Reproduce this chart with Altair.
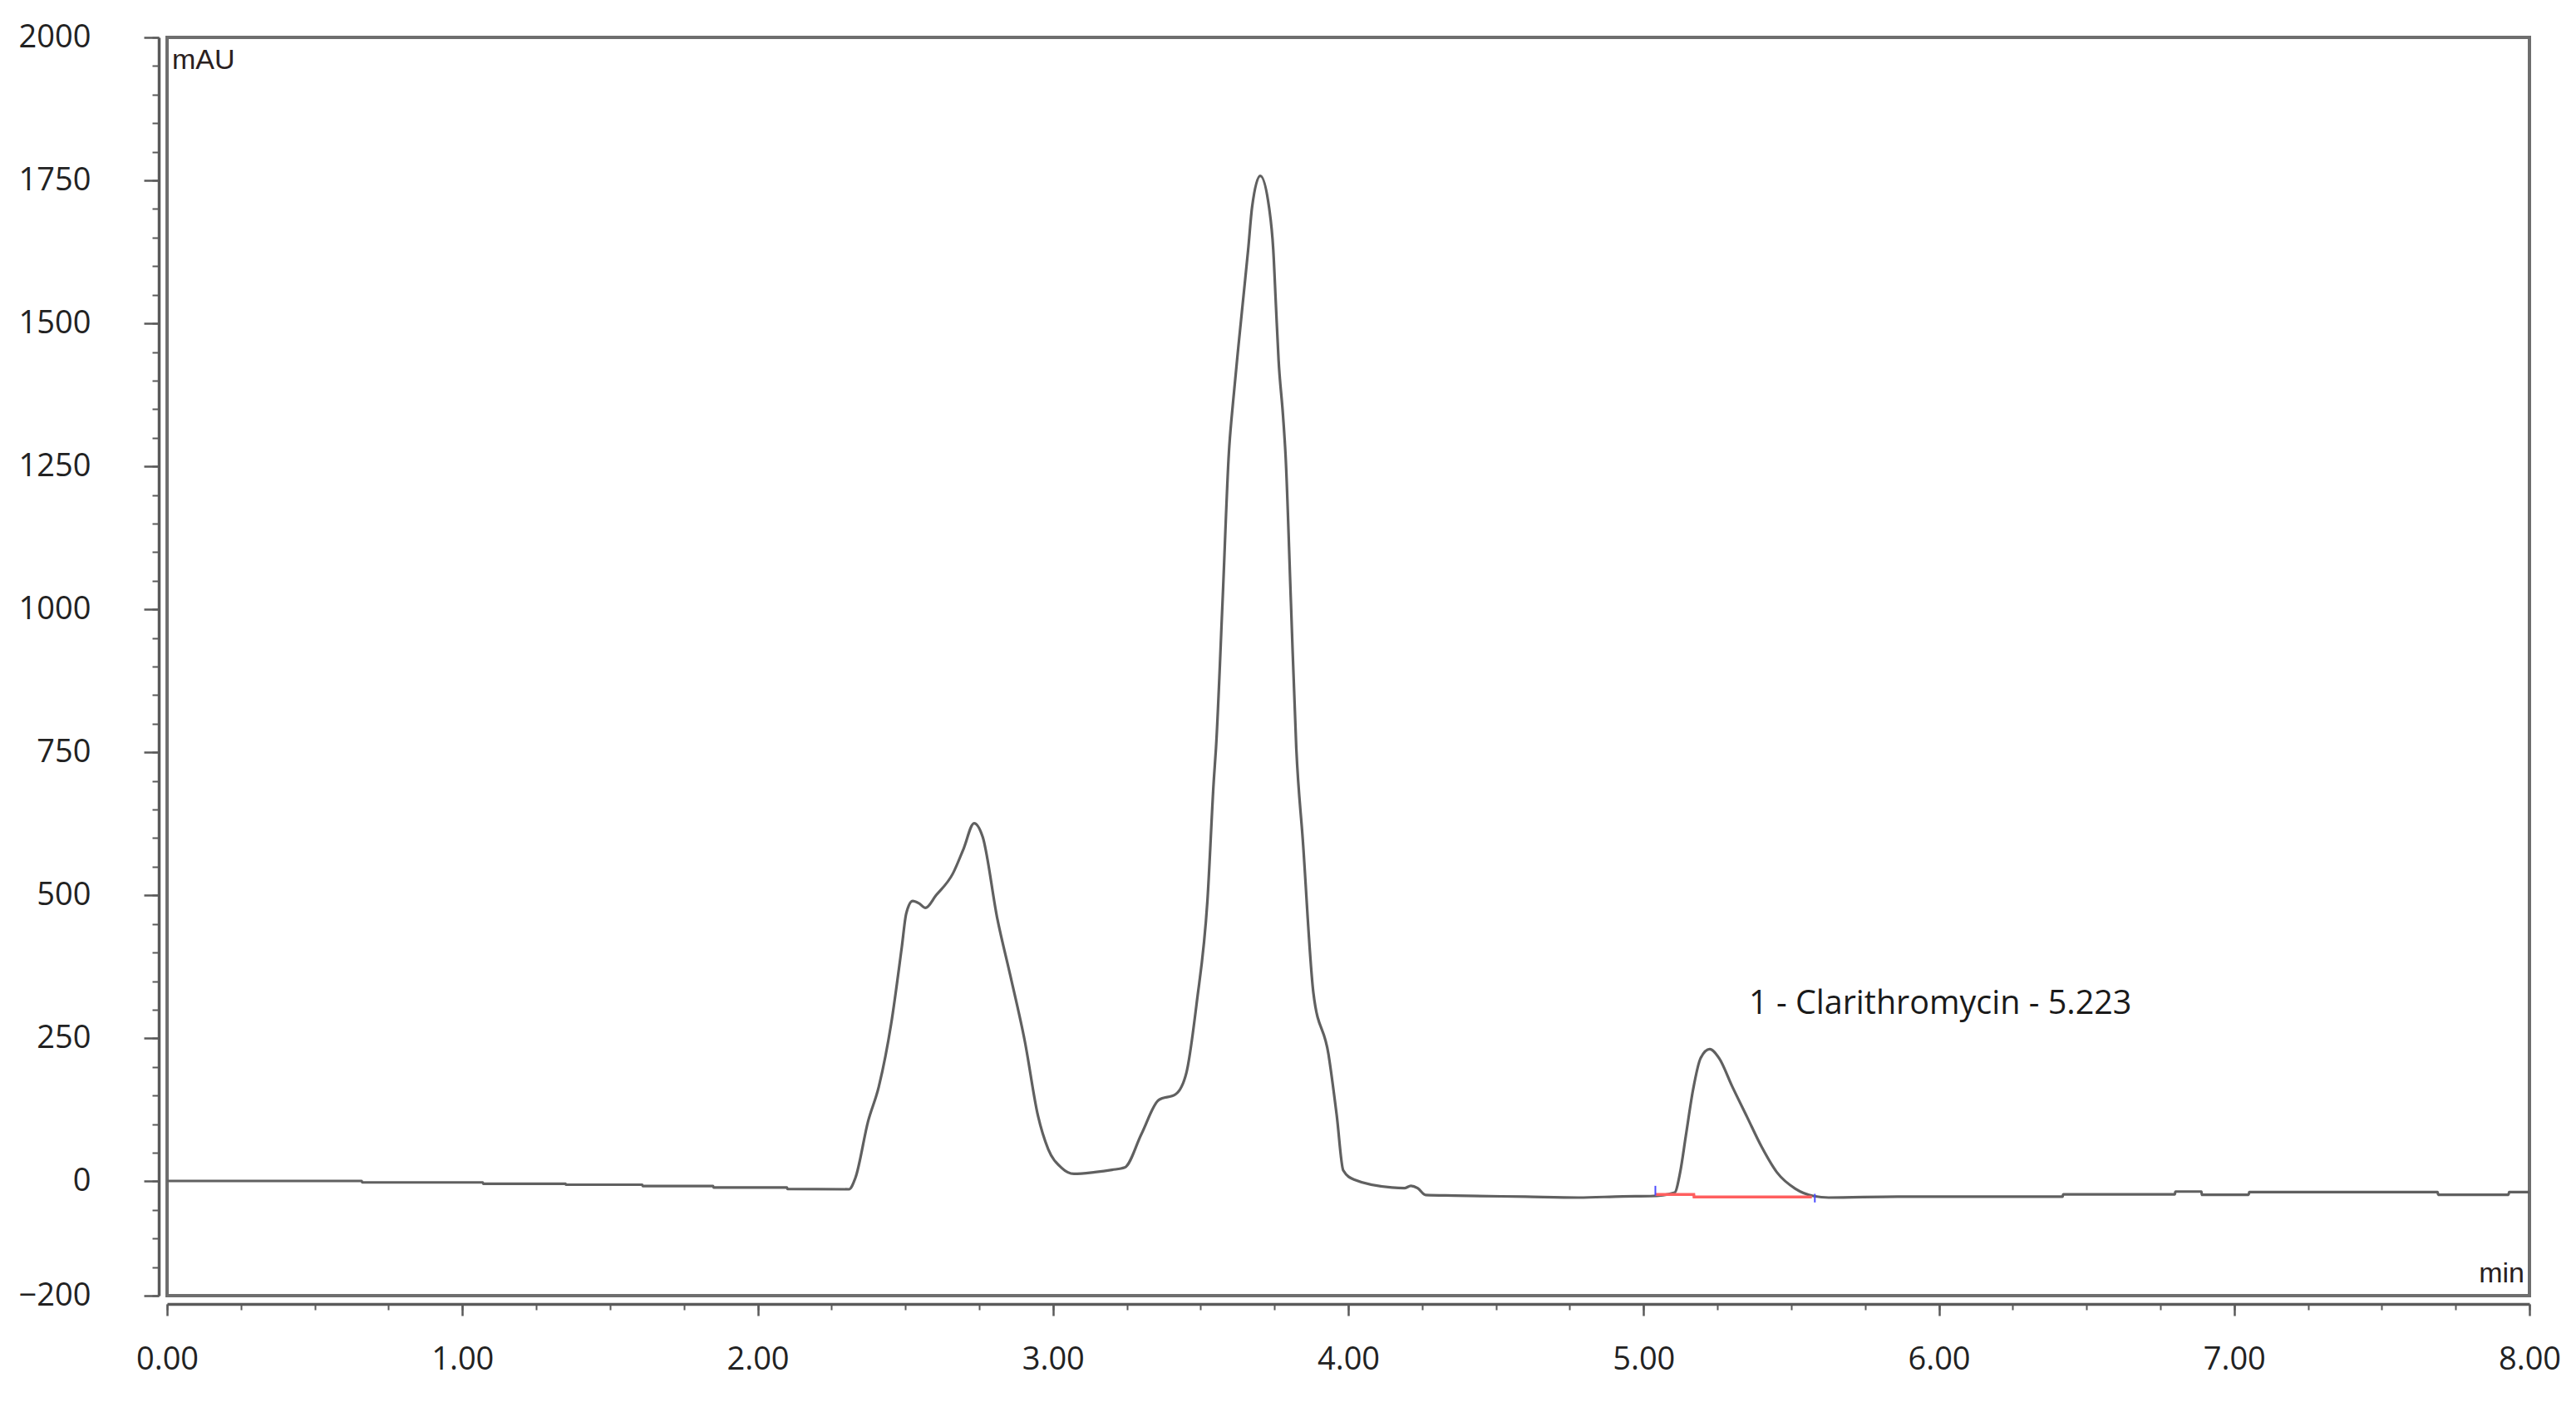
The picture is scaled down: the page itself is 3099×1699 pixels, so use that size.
import altair as alt
import pandas as pd

# ---- chromatogram trace (time in min, signal in mAU) ----
time_min = [
    0.00, 0.30, 0.659, 0.661, 1.069, 1.071, 1.349, 1.351, 1.609, 1.611, 1.849, 1.851,
    2.099, 2.101, 2.309, 2.331, 2.374, 2.410, 2.452, 2.488, 2.503, 2.525, 2.546,
    2.568, 2.604, 2.661, 2.697, 2.733, 2.762, 2.812, 2.855, 2.905, 2.949, 2.984,
    3.028, 3.071, 3.142, 3.200, 3.243, 3.300, 3.358, 3.415, 3.452, 3.487, 3.523,
    3.545, 3.552, 3.574, 3.596, 3.610, 3.628, 3.647, 3.661, 3.674, 3.702, 3.732,
    3.746, 3.755, 3.764, 3.779, 3.788, 3.806, 3.824, 3.846, 3.882, 3.933, 3.961,
    3.983, 4.019, 4.148, 4.190, 4.212, 4.235, 4.262, 4.360, 4.600, 4.780, 4.930,
    5.024, 5.105, 5.124, 5.143, 5.168, 5.193, 5.224, 5.256, 5.300, 5.350, 5.400,
    5.451, 5.514, 5.577, 5.627, 5.860, 6.419, 6.421, 6.799, 6.801, 6.889, 6.891,
    7.049, 7.051, 7.689, 7.691, 7.929, 7.931, 8.00,
]
signal_mau = [
    0.5, 0.5, 0.5, -2, -2, -4.5, -4.5, -6, -6, -8.5, -8.5, -11,
    -11, -13.5, -14, 6, 105, 165, 275, 409, 468, 490, 486,
    478, 500, 538, 581, 626, 602, 458, 361, 244, 115, 56,
    24, 13, 16, 20, 24, 83, 142, 152, 190, 313, 490,
    704, 757, 1010, 1276, 1363, 1460, 1557, 1629, 1702, 1758, 1702,
    1629, 1532, 1436, 1339, 1266, 1010, 757, 597, 329, 222, 115,
    19, 3, -11, -12, -8, -12, -24, -25, -27, -28.5, -26.5,
    -26, -20, 16, 79, 161, 215, 231, 215, 166, 113, 60,
    16, -13, -26, -28.5, -27, -27, -23, -23, -18, -18, -23.7,
    -23.7, -19, -19, -23.7, -23.7, -19, -19,
]

# ---- integration baseline of peak 1 (red) and its start/end markers (blue) ----
base_t = [5.040, 5.170, 5.171, 5.570]
base_y = [-23, -23, -27.5, -27.5]
mark_t = [5.040, 5.580]
mark_lo = [-25, -37]
mark_hi = [-8, -22]

# ---- peak label ----
peak_t = [5.357]
peak_y = [292]
peak_label = ["1 - Clarithromycin - 5.223"]

# ---- axis tick values ----
x_major = [0, 1, 2, 3, 4, 5, 6, 7, 8]
x_minor = [i / 4 for i in range(0, 33)]
y_major = [-200, 0, 250, 500, 750, 1000, 1250, 1500, 1750, 2000]
y_minor = list(range(-200, 2001, 50))

trace = pd.DataFrame({"t": time_min, "v": signal_mau})
base = pd.DataFrame({"t": base_t, "v": base_y})
marks = pd.DataFrame({"t": mark_t, "lo": mark_lo, "hi": mark_hi})
ann = pd.DataFrame({"t": peak_t, "v": peak_y, "label": peak_label})

xs = alt.Scale(domain=[0, 8], nice=False, zero=False)
ys = alt.Scale(domain=[-200, 2000], nice=False, zero=False)

FONT = "Open Sans"
AX = "#5a5a5a"

x_major_axis = alt.Axis(
    values=x_major, format=".2f", orient="bottom", offset=10, title=None,
    grid=False, tickSize=14, tickWidth=2.5, tickColor=AX,
    domainColor=AX, domainWidth=3.5, labelFont=FONT, labelFontSize=38,
    labelColor="#222222", labelPadding=34, labelFlush=False, labelOverlap=False,
)
y_major_axis = alt.Axis(
    values=y_major, format="d", orient="left", offset=10, title=None,
    grid=False, tickSize=18, tickWidth=2.5, tickColor=AX,
    domainColor=AX, domainWidth=3.5, labelFont=FONT, labelFontSize=38,
    labelColor="#222222", labelPadding=64, labelFlush=False, labelOverlap=False,
)
x_minor_axis = alt.Axis(
    values=x_minor, orient="bottom", offset=10, title=None, grid=False,
    labels=False, domain=False, tickSize=7, tickWidth=2, tickColor=AX,
)
y_minor_axis = alt.Axis(
    values=y_minor, orient="left", offset=10, title=None, grid=False,
    labels=False, domain=False, tickSize=8, tickWidth=2, tickColor=AX,
)

line = alt.Chart(trace).mark_line(
    color="#606060", strokeWidth=3.2, interpolate="monotone"
).encode(
    x=alt.X("t:Q", scale=xs, axis=x_major_axis),
    y=alt.Y("v:Q", scale=ys, axis=y_major_axis),
)

baseline = alt.Chart(base).mark_line(color="#ff5f5f", strokeWidth=3.5).encode(
    x=alt.X("t:Q", scale=xs, axis=x_minor_axis),
    y=alt.Y("v:Q", scale=ys, axis=y_minor_axis),
)

markers = alt.Chart(marks).mark_rule(color="#4b4bff", strokeWidth=2).encode(
    x=alt.X("t:Q", scale=xs, axis=None),
    y=alt.Y("lo:Q", scale=ys, axis=None),
    y2="hi:Q",
)

label = alt.Chart(ann).mark_text(
    align="left", baseline="alphabetic", font="Open Sans", fontSize=39.5, color="#1a1a1a"
).encode(
    x=alt.X("t:Q", scale=xs, axis=None),
    y=alt.Y("v:Q", scale=ys, axis=None),
    text="label:N",
)

unit_y = alt.Chart(pd.DataFrame({"s": ["mAU"]})).mark_text(
    align="left", baseline="top", font="Liberation Sans", fontSize=34, color="#2a2020"
).encode(x=alt.value(6), y=alt.value(11), text="s:N")

unit_x = alt.Chart(pd.DataFrame({"s": ["min"]})).mark_text(
    align="right", baseline="alphabetic", font="Liberation Sans", fontSize=34, color="#2a2020"
).encode(x=alt.value(2836), y=alt.value(1498), text="s:N")

chart = (
    alt.layer(line, baseline, markers, label, unit_y, unit_x)
    .resolve_axis(x="independent", y="independent")
    .properties(
        width=2842,
        height=1514,
        padding={"left": 193, "top": 37, "right": 48, "bottom": 132},
        autosize=alt.AutoSizeParams(type="none"),
        background="white",
    )
    .configure_view(stroke="#6e6e6e", strokeWidth=4)
)

chart.save("out.html", embed_options={"renderer": "svg", "actions": False})
